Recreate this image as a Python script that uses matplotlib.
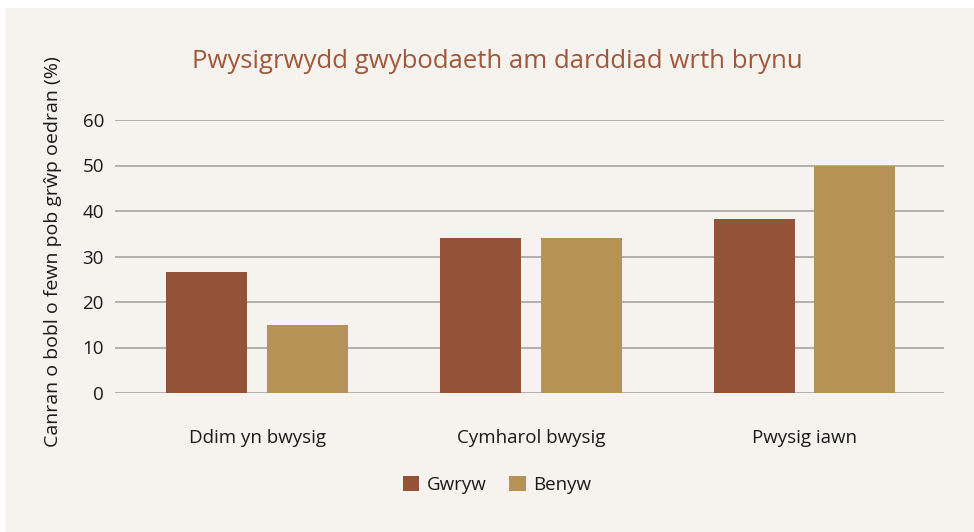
import numpy as np
import matplotlib.pyplot as plt
from matplotlib.patches import Rectangle

categories = ["Ddim yn bwysig", "Cymharol bwysig", "Pwysig iawn"]
gwryw = [26.6, 34.0, 38.3]
benyw = [15.0, 34.0, 50.0]
series_names = ["Gwryw", "Benyw"]

bg = "#f6f3ef"
c_gwryw = "#945337"
c_benyw = "#b69256"
txt = "#1a1a1a"

plt.rcParams['font.family'] = ['Open Sans', 'DejaVu Sans']

fig = plt.figure(figsize=(9.74, 5.32), dpi=100, facecolor="white")
# beige panel behind everything
fig.patches.append(Rectangle((5 / 974, 0), 1, 1 - 8 / 532, transform=fig.transFigure,
                             facecolor=bg, edgecolor="none", zorder=-5))

ax = fig.add_axes([115 / 974, 1 - 393 / 532, (944 - 115) / 974, (393 - 120) / 532])
ax.set_zorder(2)
ax.set_facecolor(bg)

x = np.arange(len(categories))
w = 0.296
off = 0.184
b1 = ax.bar(x - off, gwryw, w, color=c_gwryw, zorder=3, label=series_names[0])
b2 = ax.bar(x + off, benyw, w, color=c_benyw, zorder=3, label=series_names[1])

ax.set_ylim(0, 60)
ax.set_xlim(-0.52, 2.51)
ax.set_yticks(range(0, 61, 10))
ax.yaxis.grid(True, color="#b3b0ac", linewidth=1.4, zorder=1)
ax.set_axisbelow(True)
ax.set_xticks(x)
ax.set_xticklabels(categories)
ax.tick_params(axis="both", length=0, labelsize=13.5, colors=txt)
ax.tick_params(axis="x", pad=26)
ax.tick_params(axis="y", pad=8)
for s in ax.spines.values():
    s.set_visible(False)

fig.text(53 / 974, 1 - 252 / 532, "Canran o bobl o fewn pob grŵp oedran (%)",
         rotation=90, ha="center", va="center", fontsize=14, color=txt, zorder=3)
fig.text(497 / 974, 1 - 62 / 532, "Pwysigrwydd gwybodaeth am darddiad wrth brynu",
         ha="center", va="center", fontsize=18.5, color="#a0573a", zorder=3)

leg = fig.legend(handles=[b1, b2], loc="center", bbox_to_anchor=(497 / 974, 1 - 485 / 532),
                 ncol=2, frameon=False, fontsize=13.5, handlelength=0.9, handleheight=0.9,
                 handletextpad=0.4, columnspacing=1.2, labelcolor=txt)
leg.set_zorder(3)

fig.savefig("out.png", dpi=100, facecolor=fig.get_facecolor())
